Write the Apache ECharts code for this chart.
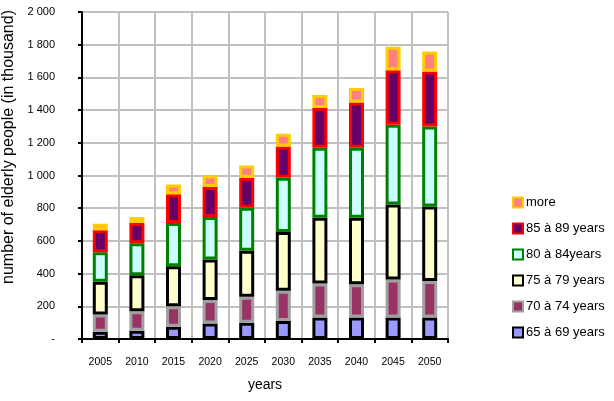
<!DOCTYPE html>
<html>
<head>
<meta charset="utf-8">
<script src="https://cdn.jsdelivr.net/npm/echarts@6/dist/echarts.min.js"></script>
<style>html,body{margin:0;padding:0;background:#fff}#c{width:614px;height:401px}</style>
</head>
<body>
<div id="c"></div>
<script>
const categories = ['2005','2010','2015','2020','2025','2030','2035','2040','2045','2050'];
const s65 = [45, 50, 75, 95, 100, 110, 132, 132, 132, 132];
const s70 = [105, 120, 125, 143, 158, 185, 208, 203, 232, 223];
const s75 = [200, 220, 245, 248, 281, 359, 402, 407, 459, 456];
const s80 = [180, 195, 265, 260, 264, 332, 427, 427, 488, 488];
const s85 = [135, 125, 175, 183, 183, 191, 244, 278, 333, 337];
const sMore = [40, 35, 60, 71, 75, 78, 79, 88, 143, 122];
const seriesNames = ['65 à 69 years','70 à 74 years','75 à 79 years','80 à 84years','85 à 89 years','more'];
const yTitle = 'number of elderly people (in thousand)';
const xTitle = 'years';

const fills = ['#9999FF','#993366','#FFFFCC','#CCFFFF','#660066','#FF8080'];
const borders = ['#000000','#A0A0A0','#000000','#008000','#FF0000','#FFCC00'];
const dataSets = [s65, s70, s75, s80, s85, sMore];

const FONT = 'Liberation Sans, Arial, sans-serif';
const chart = echarts.init(document.getElementById('c'), null, {renderer:'canvas'});
chart.setOption({
  animation: false,
  backgroundColor: '#fff',
  grid: {left: 82, right: 166, top: 12, bottom: 62},
  legend: {
    orient: 'vertical',
    left: 507, top: 191,
    itemWidth: 10, itemHeight: 10, itemGap: 13,
    data: seriesNames.slice().reverse(),
    icon: 'rect',
    itemStyle: {borderWidth: 2},
    textStyle: {fontFamily: FONT, fontSize: 13, color: '#000', padding: [0,0,0,-2]}
  },
  xAxis: {
    type: 'category',
    data: categories,
    name: xTitle,
    nameLocation: 'middle',
    nameGap: 39,
    nameTextStyle: {fontFamily: FONT, fontSize: 14, color: '#000'},
    axisLine: {lineStyle: {color: '#000', width: 2}},
    axisTick: {show: true, length: 4, lineStyle: {color: '#000', width: 2}},
    axisLabel: {fontFamily: FONT, fontSize: 10.5, color: '#000', margin: 18},
    splitLine: {show: true, lineStyle: {color: '#C0C0C0', width: 2}}
  },
  yAxis: {
    type: 'value',
    min: 0, max: 2000, interval: 200,
    axisLine: {show: true, lineStyle: {color: '#000', width: 2}},
    axisTick: {show: true, length: 4, lineStyle: {color: '#000', width: 2}},
    axisLabel: {
      fontFamily: FONT, fontSize: 11, color: '#000', margin: 27,
      formatter: function(v){
        if (v === 0) return '-';
        const s = String(v);
        return s.length > 3 ? s.slice(0, s.length-3) + ' ' + s.slice(-3) : s;
      }
    },
    splitLine: {show: true, lineStyle: {color: '#C0C0C0', width: 2}}
  },
  graphic: [{
    type: 'text',
    x: 9, y: 147,
    rotation: Math.PI/2,
    style: {text: yTitle, font: '16px ' + FONT, fill: '#000', align: 'center', verticalAlign: 'middle'}
  }],
  series: dataSets.map(function(d, i){
    return {
      name: seriesNames[i],
      type: 'bar',
      stack: 'total',
      barWidth: 15,
      data: d,
      itemStyle: {color: fills[i], borderColor: borders[i], borderWidth: 3}
    };
  })
});
</script>
</body>
</html>
